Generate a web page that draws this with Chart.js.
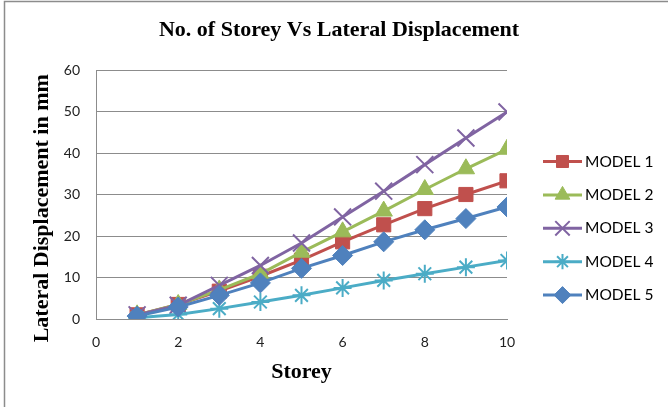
<!DOCTYPE html>
<html>
<head>
<meta charset="utf-8">
<script src="https://cdn.jsdelivr.net/npm/chart.js@4/dist/chart.umd.min.js"></script>
<style>
  html, body { margin: 0; padding: 0; background: #fff; }
  canvas { display: block; }
</style>
</head>
<body>
<canvas id="canvas" width="668" height="407"></canvas>
<script>
var storeys = [1, 2, 3, 4, 5, 6, 7, 8, 9, 10];
var model1 = [1.0, 3.5, 6.7, 10.3, 14.2, 18.6, 22.7, 26.6, 30.0, 33.3];
var model2 = [1.0, 3.5, 7.0, 10.9, 16.1, 21.0, 26.0, 31.2, 36.2, 40.9];
var model3 = [1.0, 3.3, 8.1, 12.9, 18.3, 24.6, 30.8, 37.2, 43.6, 49.9];
var model4 = [0.3, 1.1, 2.5, 4.1, 5.7, 7.5, 9.3, 10.9, 12.5, 14.1];
var model5 = [0.7, 2.9, 5.7, 8.7, 12.2, 15.3, 18.6, 21.5, 24.2, 27.0];
var seriesNames = ["MODEL 1", "MODEL 2", "MODEL 3", "MODEL 4", "MODEL 5"];
var xTicks = [0, 2, 4, 6, 8, 10];
var yTicks = [0, 10, 20, 30, 40, 50, 60];

var gridColor = '#8c8c8c';
var tickFont = { family: 'Lato', size: 14 };
var titleFont = { family: 'Liberation Serif', size: 22, weight: 'bold' };

function points(values) {
  return values.map(function(v, i) { return { x: storeys[i], y: v }; });
}

var styles = [
  { color: '#C0504D', point: 'rect', radius: 10, bw: 1 },
  { color: '#9BBB59', point: 'triangle', radius: 10, bw: 1 },
  { color: '#8064A2', point: 'crossRot', radius: 12, bw: 2 },
  { color: '#4BACC6', point: 'star', radius: 9, bw: 2 },
  { color: '#4F81BD', point: 'rectRot', radius: 10, bw: 1 }
];

var allValues = [model1, model2, model3, model4, model5];

var datasets = allValues.map(function(vals, i) {
  var s = styles[i];
  return {
    label: seriesNames[i],
    data: points(vals),
    borderColor: s.color,
    backgroundColor: s.color,
    borderWidth: 3,
    pointStyle: s.point,
    pointRadius: s.radius,
    pointBorderWidth: s.bw,
    pointBorderColor: s.color,
    pointBackgroundColor: s.color,
    tension: 0,
    order: 5 - i
  };
});

// frame round the whole chart
var framePlugin = {
  id: 'frame',
  beforeDraw: function(chart) {
    var c = chart.ctx;
    c.save();
    c.fillStyle = '#fff';
    c.fillRect(0, 0, chart.width, chart.height);
    c.strokeStyle = '#8c8c8c';
    c.lineWidth = 1.5;
    c.strokeRect(4.5, 1.5, chart.width + 20, chart.height + 20);
    c.restore();
  }
};

// legend with line + marker like the original
var lineLegend = {
  id: 'lineLegend',
  afterDraw: function(chart) {
    var c = chart.ctx;
    var x0 = 543, x1 = 582, y = 161.5, step = 33.4;
    c.save();
    chart.data.datasets.forEach(function(ds, i) {
      var yy = y + i * step;
      c.strokeStyle = ds.borderColor;
      c.lineWidth = 3;
      c.beginPath();
      c.moveTo(x0, yy);
      c.lineTo(x1, yy);
      c.stroke();
      c.fillStyle = ds.pointBackgroundColor;
      c.strokeStyle = ds.pointBorderColor;
      c.lineWidth = ds.pointBorderWidth;
      Chart.helpers.drawPoint(c, {
        pointStyle: ds.pointStyle,
        radius: ds.pointRadius * 0.85,
        rotation: 0,
        borderWidth: ds.pointBorderWidth
      }, (x0 + x1) / 2, yy);
      c.fillStyle = '#000';
      c.font = '15.5px Lato';
      c.textAlign = 'left';
      c.textBaseline = 'middle';
      c.fillText(ds.label, x1 + 3, yy);
    });
    c.restore();
  }
};

var ctx = document.getElementById("canvas");
var chart = new Chart(ctx, {
  type: 'line',
  data: { datasets: datasets },
  plugins: [framePlugin, lineLegend],
  options: {
    responsive: false,
    animation: false,
    layout: { padding: { left: 10, right: 0, top: 0, bottom: 0 } },
    plugins: {
      legend: { display: false },
      tooltip: { enabled: false },
      title: {
        display: true,
        text: 'No. of Storey Vs Lateral Displacement',
        color: '#000',
        font: titleFont,
        padding: { top: 16.8, bottom: 26.8 }
      }
    },
    scales: {
      x: {
        type: 'linear',
        min: 0,
        max: 10,
        afterBuildTicks: function(s) { s.ticks = xTicks.map(function(v) { return { value: v }; }); },
        afterFit: function(s) { s.height = 88; },
        grid: { display: false, drawTicks: false },
        border: { display: true, color: gridColor, width: 1 },
        ticks: { color: '#222', font: tickFont, padding: 15, maxRotation: 0 },
        title: {
          display: true,
          text: 'Storey',
          color: '#000',
          font: titleFont,
          padding: { top: 0, bottom: 21.8 }
        }
      },
      y: {
        min: 0,
        max: 60,
        afterBuildTicks: function(s) { s.ticks = yTicks.map(function(v) { return { value: v }; }); },
        afterFit: function(s) { s.width = 86; },
        grid: { color: gridColor, lineWidth: 1, drawTicks: false },
        border: { display: true, color: gridColor, width: 1 },
        ticks: { color: '#222', font: tickFont, padding: 16 },
        title: {
          display: true,
          text: 'Lateral Displacement in mm     ',
          color: '#000',
          font: titleFont,
          padding: { top: 18.8, bottom: 0 }
        }
      },
      spacer: {
        position: 'right',
        min: 0,
        max: 1,
        afterFit: function(s) { s.width = 161; },
        grid: { display: false, drawTicks: false },
        border: { display: false },
        ticks: { display: false }
      }
    }
  }
});
</script>
</body>
</html>
